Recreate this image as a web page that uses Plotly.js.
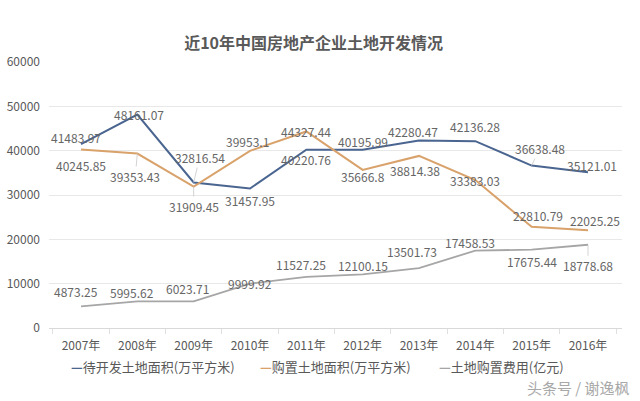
<!DOCTYPE html>
<html><head><meta charset="utf-8">
<script src="https://cdn.plot.ly/plotly-3.0.1.min.js"></script>
<style>html,body{margin:0;padding:0;background:#fff}#chart{width:640px;height:401px}</style>
</head><body><div id="chart"></div>
<script>
const years = ['2007年','2008年','2009年','2010年','2011年','2012年','2013年','2014年','2015年','2016年'];
const landPending = [41483.97, 48161.07, 32816.54, 31457.95, 40220.76, 40195.99, 42280.47, 42136.28, 36638.48, 35121.01];
const landPurchased = [40245.85, 39353.43, 31909.45, 39953.1, 44327.44, 35666.8, 38814.38, 33383.03, 22810.79, 22025.25];
const landCost = [4873.25, 5995.62, 6023.71, 9999.92, 11527.25, 12100.15, 13501.73, 17458.53, 17675.44, 18778.68];
const seriesNames = ['待开发土地面积(万平方米)', '购置土地面积(万平方米)', '土地购置费用(亿元)'];
const yTicks = [0, 10000, 20000, 30000, 40000, 50000, 60000];

// label placement offsets (px) and leader-line flags
const pendingOff = [[-5,-7],[2,0],[6,-25],[0,12],[0,10],[0,-8],[-6,-9],[0,-15],[8,-17],[4,-7]];
const purchasedOff = [[0,16],[-2,23],[0,20],[-3,-9],[0,0],[0,7],[-4,15],[0,0],[6,-11],[7,-10]];
const costOff = [[-5,-15],[-5,-9],[-6,-13],[0,0],[-5,-12],[0,-9],[-7,-17],[-5,-8],[0,12],[0,21]];
const pendingLead = [0,0,1,0,0,0,0,0,1,0];
const purchasedLead = [0,1,1,0,0,0,0,0,0,0];
const costLead = [0,0,0,0,0,0,0,0,0,1];

const colors = ['#4a6590', '#d9a26b', '#a6a6a6'];
const FONT = '"Noto Sans CJK SC", "Noto Sans", sans-serif';

const series = [landPending, landPurchased, landCost];
const traces = series.map((vals, i) => ({
  type: 'scatter', mode: 'lines', x: years, y: vals, name: seriesNames[i],
  line: {color: colors[i], width: i === 2 ? 1.8 : 2}
}));

const annotations = [];
const offs = [pendingOff, purchasedOff, costOff];
const leads = [pendingLead, purchasedLead, costLead];
series.forEach((vals, s) => {
  vals.forEach((v, k) => {
    annotations.push({
      x: years[k], y: v, xref: 'x', yref: 'y', text: String(v),
      showarrow: true, arrowhead: 0, arrowwidth: 0.8, standoff: 0,
      arrowcolor: leads[s][k] ? '#c8c8c8' : 'rgba(0,0,0,0)',
      ax: offs[s][k][0], ay: offs[s][k][1],
      font: {family: FONT, size: 12, color: '#666666'}
    });
  });
});
// legend entries (short dash + name), as in the reference
const legendX = [0.035, 0.365, 0.677];
seriesNames.forEach((nm, i) => {
  annotations.push({
    xref: 'paper', yref: 'paper', x: legendX[i], y: -0.1433, xanchor: 'left', yanchor: 'middle',
    showarrow: false,
    text: '<b><span style="color:' + colors[i] + '">—</span></b>' + nm,
    font: {family: FONT, size: 13, color: '#595959'}
  });
});
annotations.push({
  xref: 'paper', yref: 'paper', x: 1.0175, y: -0.2233, xanchor: 'right', yanchor: 'middle',
  text: '头条号 / 谢逸枫', showarrow: false,
  font: {family: FONT, size: 15, color: '#a8a8a8'}
});

const layout = {
  width: 640, height: 401,
  margin: {l: 49, r: 18, t: 62, b: 72.5},
  paper_bgcolor: '#ffffff', plot_bgcolor: '#ffffff',
  font: {family: FONT, size: 12, color: '#595959'},
  title: {text: '<b>近10年中国房地产企业土地开发情况</b>', x: 0.49, xanchor: 'center', y: 0.893, yanchor: 'middle',
          font: {family: FONT, size: 16, color: '#595959'}},
  xaxis: {type: 'category', showgrid: false, showline: true, linecolor: '#d9d9d9', linewidth: 1,
          ticks: 'outside', tickson: 'boundaries', ticklen: 5, tickcolor: '#e0e0e0',
          ticklabelstandoff: 7,
          tickfont: {family: FONT, size: 12, color: '#595959'}, zeroline: false},
  yaxis: {range: [0, 60000], tickvals: yTicks, ticktext: yTicks.map(String), showgrid: true, gridcolor: '#e8e8e8',
          zeroline: false, showline: false, ticks: '', ticklabelstandoff: 8,
          tickfont: {family: FONT, size: 12, color: '#595959'}},
  showlegend: false,
  annotations: annotations
};

Plotly.newPlot('chart', traces, layout, {displayModeBar: false, staticPlot: true});
</script></body></html>
